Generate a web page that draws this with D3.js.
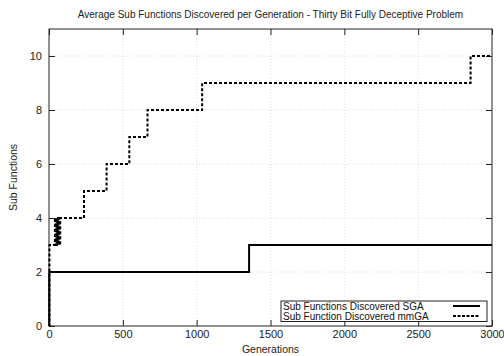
<!DOCTYPE html>
<html>
<head>
<meta charset="utf-8">
<script src="https://cdn.jsdelivr.net/npm/d3@7/dist/d3.min.js"></script>
<style>
  body { margin: 0; background: #fff; }
  svg { display: block; font-family: 'Liberation Sans', Arial, sans-serif; }
</style>
</head>
<body>
<div id="chart"></div>
<script>
const title = 'Average Sub Functions Discovered per Generation - Thirty Bit Fully Deceptive Problem';
const xTicks = [0, 500, 1000, 1500, 2000, 2500, 3000];
const yTicks = [0, 2, 4, 6, 8, 10];

// step series: [generation, value]
const sgaGen = [0, 2, 1355, 3000];
const sgaVal = [0, 2, 3, 3];

const mmgaGen = [0, 3, 40, 46, 52, 58, 64, 70, 76, 82, 237, 390, 544, 667, 1037, 2855, 3000];
const mmgaVal = [0, 3, 4, 3, 4, 3, 4, 3, 4, 4, 5, 6, 7, 8, 9, 10, 10];

const seriesNames = ['Sub Functions Discovered SGA', 'Sub Function Discovered mmGA'];

const width = 504;
const height = 356;
const margin = { top: 29, right: 12, bottom: 30, left: 49 };
const innerW = width - margin.left - margin.right;
const innerH = height - margin.top - margin.bottom;

const svg = d3.select('#chart').append('svg')
  .attr('width', width)
  .attr('height', height);

const x = d3.scaleLinear().domain([0, 3000]).range([0, innerW]);
const y = d3.scaleLinear().domain([0, 11]).range([innerH, 0]);

const g = svg.append('g').attr('transform', `translate(${margin.left},${margin.top})`);

// grid
const grid = g.append('g').attr('stroke', '#c8c8c8').attr('stroke-width', 0.6).attr('stroke-dasharray', '1,2');
grid.selectAll('.gx').data(xTicks.slice(1, -1)).join('line')
  .attr('x1', (d) => x(d)).attr('x2', (d) => x(d)).attr('y1', 0).attr('y2', innerH);
grid.selectAll('.gy').data(yTicks.slice(1)).join('line')
  .attr('x1', 0).attr('x2', innerW).attr('y1', (d) => y(d)).attr('y2', (d) => y(d));

// axes with inward ticks (mirrored)
const axisStyle = (sel) => {
  sel.select('.domain').remove();
  sel.selectAll('line').attr('stroke', '#222');
  sel.selectAll('text').attr('fill', '#222').style('font-size', '11px');
};

g.append('g').attr('transform', `translate(0,${innerH})`)
  .call(d3.axisBottom(x).tickValues(xTicks).tickSize(-6).tickPadding(4).tickFormat(d3.format('d')))
  .call(axisStyle);
g.append('g')
  .call(d3.axisTop(x).tickValues(xTicks).tickSize(-6).tickFormat(''))
  .call(axisStyle);
g.append('g')
  .call(d3.axisLeft(y).tickValues(yTicks).tickSize(-6).tickPadding(7))
  .call(axisStyle);
g.append('g').attr('transform', `translate(${innerW},0)`)
  .call(d3.axisRight(y).tickValues(yTicks).tickSize(-6).tickFormat(''))
  .call(axisStyle);

// border
g.append('rect').attr('width', innerW).attr('height', innerH)
  .attr('fill', 'none').attr('stroke', '#222').attr('stroke-width', 1);

const line = d3.line()
  .x((d) => x(d[0]))
  .y((d) => y(d[1]))
  .curve(d3.curveStepAfter);

const sga = sgaGen.map((v, i) => [v, sgaVal[i]]);
const mmga = mmgaGen.map((v, i) => [v, mmgaVal[i]]);

g.append('path').datum(sga).attr('d', line)
  .attr('fill', 'none').attr('stroke', '#000').attr('stroke-width', 2);
g.append('path').datum(mmga).attr('d', line)
  .attr('fill', 'none').attr('stroke', '#000').attr('stroke-width', 2)
  .attr('stroke-dasharray', '3,2');

// legend
const lg = svg.append('g');
lg.append('rect').attr('x', 281).attr('y', 301).attr('width', 206).attr('height', 20.5)
  .attr('fill', '#fff').attr('stroke', '#222').attr('stroke-width', 1);
seriesNames.forEach((name, i) => {
  const cy = 306 + i * 10;
  lg.append('text').attr('x', 283).attr('y', cy + 3.5).text(name)
    .style('font-size', '10px').attr('fill', '#111');
  lg.append('line').attr('x1', 453).attr('x2', 480).attr('y1', cy).attr('y2', cy)
    .attr('stroke', '#000').attr('stroke-width', 2)
    .attr('stroke-dasharray', i === 1 ? '3,1.5' : null);
});

// titles
svg.append('text').attr('x', margin.left + innerW / 2).attr('y', 18)
  .attr('text-anchor', 'middle').style('font-size', '10px').attr('fill', '#222').text(title);
svg.append('text').attr('x', margin.left + innerW / 2).attr('y', 353)
  .attr('text-anchor', 'middle').style('font-size', '10.5px').attr('fill', '#222').text('Generations');
svg.append('text').attr('transform', `translate(17,${margin.top + innerH / 2}) rotate(-90)`)
  .attr('text-anchor', 'middle').style('font-size', '10.5px').attr('fill', '#222').text('Sub Functions');
</script>
</body>
</html>
